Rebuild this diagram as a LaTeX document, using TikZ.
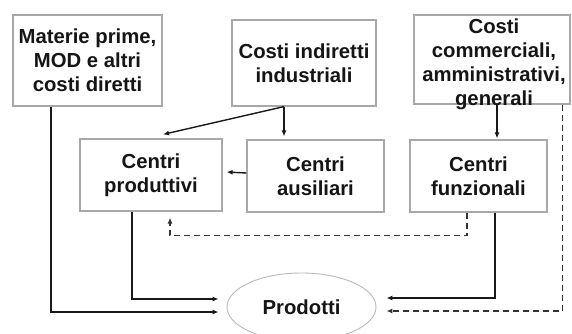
\documentclass[tikz,border=0pt]{standalone}
\usepackage{fontspec}
\setmainfont{Liberation Sans}
\usetikzlibrary{arrows.meta,shapes.geometric}
\definecolor{boxgray}{HTML}{A8A8A8}
\definecolor{txt}{HTML}{151515}
\tikzset{
  box/.style={draw=boxgray, line width=1.2pt, rectangle, align=center, inner sep=0pt,
    font=\fontsize{20.3}{24}\selectfont\bfseries, text=txt},
  arr/.style={line width=1.4pt, draw=black!90, -{Latex[length=6pt,width=5pt]}},
  darr/.style={line width=1.4pt, draw=black!80, dash pattern=on 6pt off 4pt, -{Latex[length=6pt,width=5pt]}},
}
\begin{document}
\begin{tikzpicture}[x=1pt,y=-1pt]
\useasboundingbox (0,0) rectangle (572,333);
\fill[white] (0,0) rectangle (572,333);
\node[box, minimum width=149pt, minimum height=91pt] (mat) at (87.5,60.5) {Materie prime,\\MOD e altri\\costi diretti};
\node[box, minimum width=144pt, minimum height=86pt] (cii) at (304,63) {Costi indiretti\\industriali};
\node[box, minimum width=156pt, minimum height=89pt] (ccag) at (492,59.5) {};
\node[font=\fontsize{20.3}{24}\selectfont\bfseries, text=txt, align=center] (ccagt) at (494,64) {Costi\\commerciali,\\amministrativi,\\generali};
\node[box, minimum width=142pt, minimum height=72pt] (cp) at (151,175) {Centri\\produttivi};
\node[box, minimum width=137pt, minimum height=72pt] (ca) at (315.5,176) {Centri\\ausiliari};
\node[box, minimum width=137pt, minimum height=72pt] (cf) at (478.5,176) {Centri\\funzionali};
\node[box, ellipse, draw=boxgray!80, line width=0.9pt, minimum width=149pt, minimum height=68pt] (prod) at (301.5,307) {Prodotti};
% connectors
\draw[arr] ([xshift=-36.5pt]mat.south) |- ([xshift=-8pt,yshift=-5pt]prod.west);
\draw[arr] ([xshift=-19pt]cp.south) |- ([xshift=-8pt,yshift=8pt]prod.west);
\draw[arr] ([xshift=16.5pt]cf.south) |- ([xshift=10pt,yshift=9pt]prod.east);
\draw[darr] ([xshift=-8pt]ccag.south east) |- ([xshift=10pt,yshift=-4pt]prod.east);
\draw[arr] ([xshift=-20pt]cii.south) -- ([xshift=12pt,yshift=4pt]cp.north);
\draw[arr] ([xshift=-20pt]cii.south) -- ([xshift=-31.5pt,yshift=3pt]ca.north);
\draw[arr] ([yshift=3pt]ca.west) -- ([xshift=4pt,yshift=3pt]cp.east);
\draw[arr] ([xshift=5pt]ccag.south) -- ([xshift=18.5pt,yshift=1pt]cf.north);
\draw[darr] ([xshift=-11.5pt]cf.south) -- ++(0,23) -| ([xshift=19pt,yshift=-6pt]cp.south);
\end{tikzpicture}
\end{document}
